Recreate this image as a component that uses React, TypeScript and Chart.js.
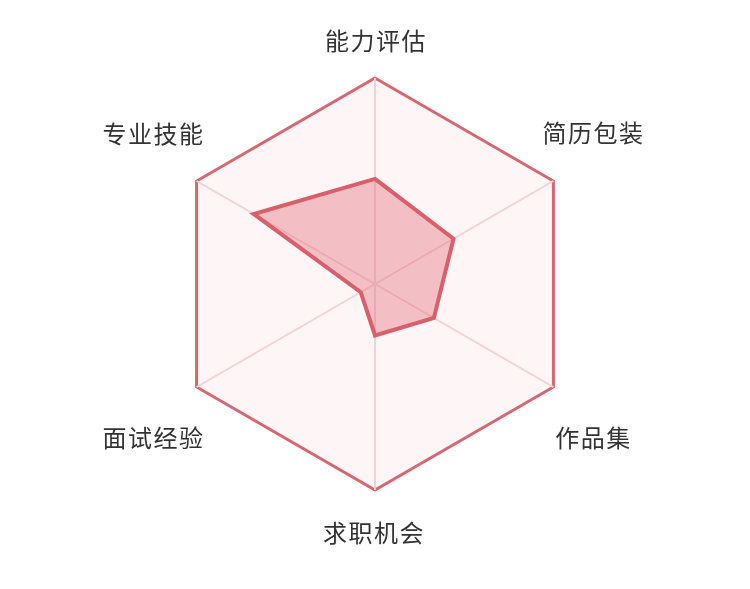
import React, { useEffect, useRef } from "react";
import { Chart, registerables } from "chart.js";

Chart.register(...registerables);

const categories = ["能力评估", "简历包装", "作品集", "求职机会", "面试经验", "专业技能"];
const values = [51, 44, 33, 25, 8, 68];
const scaleMin = 0;
const scaleMax = 100;

// label offsets relative to each outer vertex (style only)
const labelOffsets: [number, number][] = [
  [0, -37],
  [39, -48],
  [39, 51],
  [-2, 43],
  [-44, 51],
  [-44, -47],
];

const labelPlugin = {
  id: "outerLabels",
  afterDraw(chart: any) {
    const scale = chart.scales.r;
    const ctx = chart.ctx;
    ctx.save();
    ctx.font = '24px "Noto Sans CJK SC", "Noto Sans", sans-serif';
    (ctx as any).letterSpacing = "1.5px";
    ctx.fillStyle = "#333333";
    ctx.textAlign = "center";
    ctx.textBaseline = "middle";
    const labels = chart.data.labels as string[];
    labels.forEach((lab, i) => {
      const p = scale.getPointPosition(i, scale.drawingArea);
      const off = labelOffsets[i] || [0, 0];
      ctx.fillText(lab, p.x + off[0] + 1, p.y + off[1]);
    });
    ctx.restore();
  },
};

export default function App() {
  const ref = useRef<HTMLCanvasElement | null>(null);
  useEffect(() => {
    document.body.style.margin = "0";
    if (!ref.current) return;
    const chart = new Chart(ref.current, {
      type: "radar",
      data: {
        labels: categories,
        datasets: [
          {
            data: values,
            borderColor: "#d95f6b",
            backgroundColor: "rgba(228, 108, 120, 0.4)",
            borderWidth: 4,
            pointRadius: 0,
            pointHoverRadius: 0,
            borderJoinStyle: "miter",
          },
        ],
      },
      options: {
        animation: false,
        responsive: false,
        maintainAspectRatio: false,
        layout: { padding: { top: 78, bottom: 99, left: 169, right: 169 } },
        plugins: { legend: { display: false }, tooltip: { enabled: false } },
        scales: {
          r: {
            min: scaleMin,
            max: scaleMax,
            beginAtZero: true,
            backgroundColor: "rgba(250, 225, 228, 0.35)",
            ticks: { display: false, stepSize: 100 },
            grid: { color: "#d6666f", lineWidth: 3 },
            angleLines: { color: "#f1d3d6", lineWidth: 2 },
            pointLabels: { display: false },
          },
        },
      },
      plugins: [labelPlugin],
    });
    return () => chart.destroy();
  }, []);
  return (
    <div style={{ width: 750, height: 589 }}>
      <canvas ref={ref} width={750} height={589} style={{ display: "block" }} />
    </div>
  );
}
